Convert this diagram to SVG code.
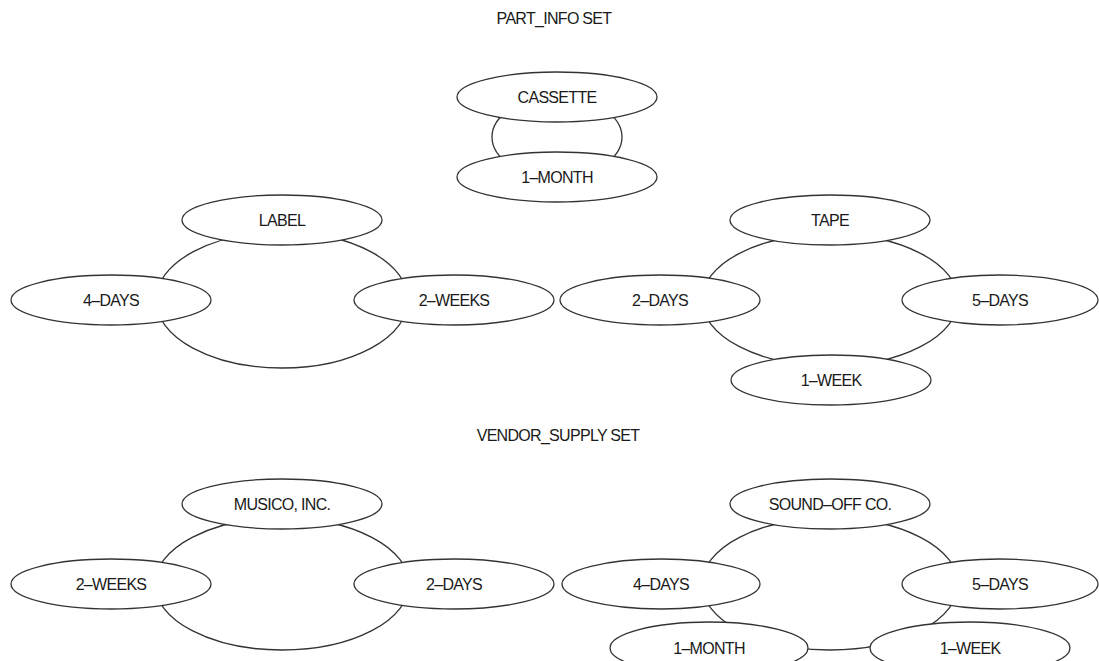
<svg xmlns="http://www.w3.org/2000/svg" width="1099" height="661" viewBox="0 0 1099 661">
<style>
.n ellipse{fill:#fff;stroke:#333;stroke-width:1.3}
.c ellipse{fill:none;stroke:#333;stroke-width:1.3}
text{font-family:"Liberation Sans",Arial,sans-serif;font-size:16px;fill:#1a1a1a;text-anchor:middle;letter-spacing:-0.7px}
</style>
<rect width="1099" height="661" fill="#fff"/>
<text id="title1" x="554" y="24">PART_INFO SET</text>
<text id="title2" x="558" y="441">VENDOR_SUPPLY SET</text>
<g id="connectors" class="c">
<ellipse cx="557" cy="137" rx="65" ry="40"/>
<ellipse cx="282" cy="300" rx="126" ry="68"/>
<ellipse cx="830" cy="300" rx="128" ry="66"/>
<ellipse cx="282" cy="584" rx="127" ry="66"/>
<ellipse cx="830" cy="584" rx="128" ry="66"/>
</g>
<g id="cassette" class="n"><ellipse cx="557" cy="97" rx="100" ry="25"/><text x="557" y="103">CASSETTE</text></g>
<g id="cassette_1month" class="n"><ellipse cx="557" cy="177" rx="100" ry="25"/><text x="557" y="183">1–MONTH</text></g>
<g id="label" class="n"><ellipse cx="282" cy="220" rx="100" ry="25"/><text x="282" y="226">LABEL</text></g>
<g id="label_4days" class="n"><ellipse cx="111" cy="300" rx="100" ry="25"/><text x="111" y="306">4–DAYS</text></g>
<g id="label_2weeks" class="n"><ellipse cx="454" cy="300" rx="100" ry="25"/><text x="454" y="306">2–WEEKS</text></g>
<g id="tape" class="n"><ellipse cx="830" cy="220" rx="100" ry="25"/><text x="830" y="226">TAPE</text></g>
<g id="tape_2days" class="n"><ellipse cx="660" cy="300" rx="100" ry="25"/><text x="660" y="306">2–DAYS</text></g>
<g id="tape_5days" class="n"><ellipse cx="1000" cy="300" rx="98" ry="25"/><text x="1000" y="306">5–DAYS</text></g>
<g id="tape_1week" class="n"><ellipse cx="831" cy="380" rx="100" ry="25"/><text x="831" y="386">1–WEEK</text></g>
<g id="musico" class="n"><ellipse cx="282" cy="504" rx="100" ry="25"/><text x="282" y="510">MUSICO, INC.</text></g>
<g id="musico_2weeks" class="n"><ellipse cx="111" cy="584" rx="100" ry="25"/><text x="111" y="590">2–WEEKS</text></g>
<g id="musico_2days" class="n"><ellipse cx="454" cy="584" rx="100" ry="25"/><text x="454" y="590">2–DAYS</text></g>
<g id="soundoff" class="n"><ellipse cx="830" cy="504" rx="100" ry="25"/><text x="830" y="510">SOUND–OFF CO.</text></g>
<g id="soundoff_4days" class="n"><ellipse cx="661" cy="584" rx="99" ry="25"/><text x="661" y="590">4–DAYS</text></g>
<g id="soundoff_5days" class="n"><ellipse cx="1000" cy="584" rx="98" ry="25"/><text x="1000" y="590">5–DAYS</text></g>
<g id="soundoff_1month" class="n"><ellipse cx="709" cy="648" rx="99" ry="26"/><text x="709" y="654">1–MONTH</text></g>
<g id="soundoff_1week" class="n"><ellipse cx="970" cy="648" rx="100" ry="26"/><text x="970" y="654">1–WEEK</text></g>
</svg>
